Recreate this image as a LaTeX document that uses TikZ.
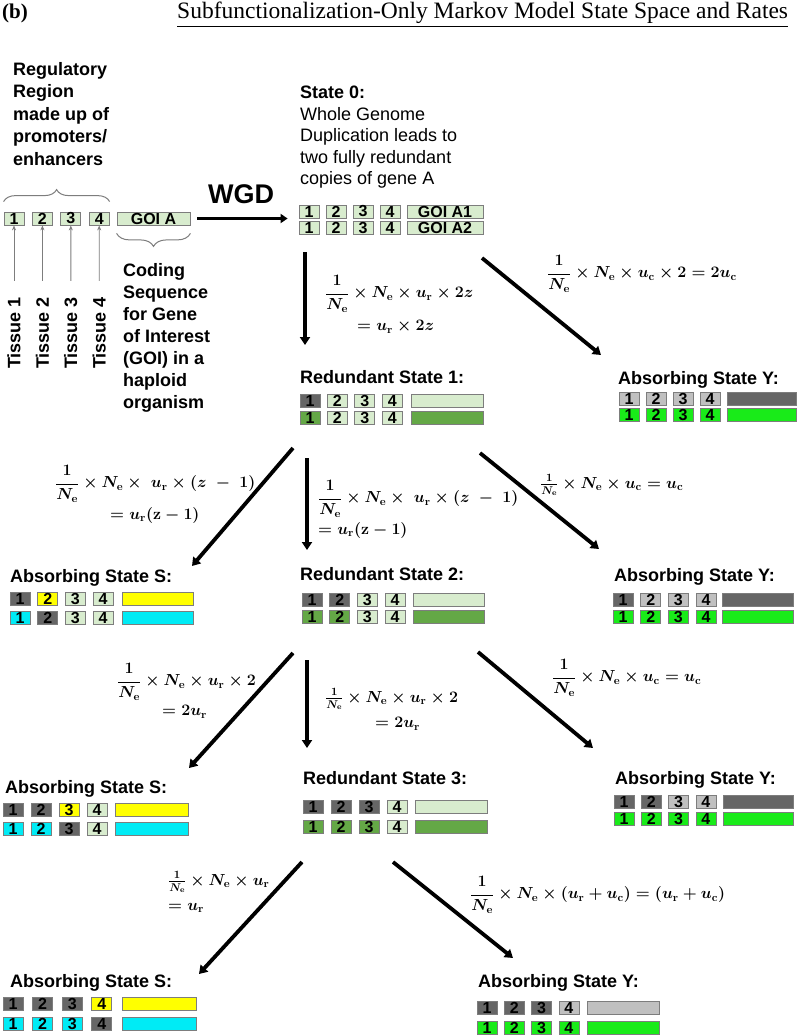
\RequirePackage{fix-cm}
\documentclass[tikz,border=0pt]{standalone}
\usepackage[no-math]{fontspec}
\usepackage{amsmath}
\setmainfont{Liberation Sans}
\newfontfamily\serifont{Liberation Serif}
\usetikzlibrary{arrows.meta,decorations.pathreplacing}
\definecolor{lgreen}{RGB}{216,236,206}
\definecolor{dgray}{RGB}{102,102,102}
\definecolor{mgreen}{RGB}{100,168,70}
\definecolor{bgreen}{RGB}{25,235,25}
\definecolor{lgray}{RGB}{192,192,192}
\definecolor{ycol}{RGB}{255,255,0}
\definecolor{ccol}{RGB}{0,235,245}
\definecolor{bordergray}{RGB}{125,125,125}
\newcommand\NNe{N_{\mathbf{e}}}
\newcommand\uR{u_{\mathbf{r}}}
\newcommand\uC{u_{\mathbf{c}}}
\newcommand\fm[1]{{\boldmath$\displaystyle #1$}}
\newcommand\fmt[1]{{\boldmath$#1$}}
\tikzset{
  gbox/.style={draw=bordergray, line width=0.8pt, inner sep=0pt, minimum height=13pt,
    font=\bfseries\fontsize{16}{16}\selectfont},
  lbl/.style={font=\bfseries\fontsize{18}{22.5}\selectfont, inner sep=0pt},
  fml/.style={font=\fontsize{16}{19}\selectfont, inner sep=0pt, anchor=west},
  bigarrow/.style={line width=3.8pt, -{Triangle[length=8pt,width=10pt]}},
  tissuearrow/.style={draw=bordergray, line width=0.9pt, -{Stealth[length=5pt,width=4pt]}},
  gbrace/.style={draw=bordergray, line width=1pt, decorate}
}
% #1 name, #2 x0, #3 y centre, #4 pitch, #5 code left, #6 code right, #7 colours, #8 code text
\newcommand\generow[8]{%
  \foreach \col [count=\i] in {#7} {%
    \ifnum\i<5
      \node[gbox, fill=\col, minimum width=20pt] (#1-\i) at ({#2+(\i-1)*#4+10}, #3) {\i};
    \else
      \pgfmathsetmacro\cw{#6-#5}
      \node[gbox, fill=\col, minimum width=\cw pt] (#1-c) at ({(#5+#6)/2}, #3) {#8};
    \fi
  }%
}
\begin{document}
\begin{tikzpicture}[x=1pt,y=-1pt]
\useasboundingbox (0,0) rectangle (797,1036);
\fill[white] (0,0) rectangle (797,1036);

% header
\node[font=\serifont\bfseries\fontsize{21}{21}\selectfont, anchor=base west, inner sep=0pt] (panel) at (2,18) {(b)};
\node[font=\serifont\fontsize{23.5}{24}\selectfont, anchor=base west, inner sep=0pt] (title) at (177,18) {\underline{Subfunctionalization-Only Markov Model State Space and Rates}};

% left explanation
\node[lbl, align=left, anchor=north west] (reg) at (13,62) {Regulatory\\Region\\made up of\\promoters/\\enhancers};
\generow{g0}{4}{218.5}{28.4}{117}{190}{lgreen,lgreen,lgreen,lgreen,lgreen}{GOI A}
\draw[gbrace, decoration={brace, amplitude=12pt}] ([yshift=10pt]g0-1.north west) -- ([yshift=10pt]g0-4.north east);
\draw[gbrace, decoration={brace, amplitude=13pt}] ([yshift=-8pt]g0-c.south east) -- ([yshift=-8pt]g0-c.south west);
\foreach \i/\x in {1/14,2/42.4,3/70.8,4/99.2} {
  \node[lbl, rotate=90] (t\i) at (\x,333) {Tissue \i};
  \draw[tissuearrow, shorten <=16pt] (t\i.east) -- (g0-\i.south);
}
\node[lbl, align=left, anchor=north west, font=\bfseries\fontsize{18}{22}\selectfont] (cod) at (123,263) {Coding\\Sequence\\for Gene\\of Interest\\(GOI) in a\\haploid\\organism};

% WGD
\node[font=\bfseries\fontsize{27}{27}\selectfont, inner sep=0pt, anchor=base west] (wgd) at (208,203) {WGD};

% State 0
\node[font=\fontsize{18}{21.5}\selectfont, align=left, anchor=north west, inner sep=0pt] (s0txt) at (300,86) {\textbf{State 0:}\\Whole Genome\\Duplication leads to\\two fully redundant\\copies of gene A};
\generow{s0a}{299}{211.5}{27}{407}{483}{lgreen,lgreen,lgreen,lgreen,lgreen}{GOI A1}
\generow{s0b}{299}{228}{27}{407}{483}{lgreen,lgreen,lgreen,lgreen,lgreen}{GOI A2}
\draw[line width=3pt, -{Triangle[length=7pt,width=9pt]}, shorten <=7pt, shorten >=11pt] (g0-c.east) -- (g0-c.east -| s0a-1.west);

% Redundant state 1
\node[lbl, anchor=base west] (rs1) at (300,383) {Redundant State 1:};
\generow{r1a}{300}{400.5}{27.4}{411}{483}{dgray,lgreen,lgreen,lgreen,lgreen}{}
\generow{r1b}{300}{418}{27.4}{411}{483}{mgreen,lgreen,lgreen,lgreen,mgreen}{}

% Absorbing Y 1
\node[lbl, anchor=base west] (y1) at (618,384) {Absorbing State Y:};
\generow{y1a}{619}{398.5}{27}{727}{796}{lgray,lgray,lgray,lgray,dgray}{}
\generow{y1b}{619}{414.5}{27}{727}{796}{bgreen,bgreen,bgreen,bgreen,bgreen}{}

% Absorbing S 2
\node[lbl, anchor=base west] (s2) at (10,582) {Absorbing State S:};
\generow{s2a}{10}{598.5}{27.7}{122}{193}{dgray,ycol,lgreen,lgreen,ycol}{}
\generow{s2b}{10}{618}{27.7}{122}{193}{ccol,dgray,lgreen,lgreen,ccol}{}

% Redundant state 2
\node[lbl, anchor=base west] (rs2) at (300,580) {Redundant State 2:};
\generow{r2a}{302}{599.5}{27.7}{413}{484}{dgray,dgray,lgreen,lgreen,lgreen}{}
\generow{r2b}{302}{617}{27.7}{413}{484}{mgreen,mgreen,lgreen,lgreen,mgreen}{}

% Absorbing Y 2
\node[lbl, anchor=base west] (y2) at (614,581) {Absorbing State Y:};
\generow{y2a}{613}{599.5}{27.7}{722}{793}{dgray,lgray,lgray,lgray,dgray}{}
\generow{y2b}{613}{617}{27.7}{722}{793}{bgreen,bgreen,bgreen,bgreen,bgreen}{}

% Absorbing S 3
\node[lbl, anchor=base west] (s3) at (5,793) {Absorbing State S:};
\generow{s3a}{3}{810}{28}{115}{188}{dgray,dgray,ycol,lgreen,ycol}{}
\generow{s3b}{3}{829}{28}{115}{188}{ccol,ccol,dgray,lgreen,ccol}{}

% Redundant state 3
\node[lbl, anchor=base west] (rs3) at (303,784) {Redundant State 3:};
\generow{r3a}{303}{807}{28}{415}{487}{dgray,dgray,dgray,lgreen,lgreen}{}
\generow{r3b}{303}{827}{28}{415}{487}{mgreen,mgreen,mgreen,lgreen,mgreen}{}

% Absorbing Y 3
\node[lbl, anchor=base west] (y3) at (615,784) {Absorbing State Y:};
\generow{y3a}{614}{801.5}{27.3}{723}{793}{dgray,dgray,lgray,lgray,dgray}{}
\generow{y3b}{614}{818.5}{27.3}{723}{793}{bgreen,bgreen,bgreen,bgreen,bgreen}{}

% Absorbing S 4
\node[lbl, anchor=base west] (s4) at (10,987) {Absorbing State S:};
\generow{s4a}{3}{1003.5}{29.6}{122}{196}{dgray,dgray,dgray,ycol,ycol}{}
\generow{s4b}{3}{1023.5}{29.6}{122}{196}{ccol,ccol,ccol,dgray,ccol}{}

% Absorbing Y 4
\node[lbl, anchor=base west] (y4) at (478,987) {Absorbing State Y:};
\generow{y4a}{477}{1008}{27.3}{587}{659}{dgray,dgray,dgray,lgray,lgray}{}
\generow{y4b}{477}{1027.5}{27.3}{587}{659}{bgreen,bgreen,bgreen,bgreen,bgreen}{}

% transition arrows
\coordinate (a1s) at (305,252);  \coordinate (a1e) at (305,345);
\coordinate (a2s) at (482,258);  \coordinate (a2e) at (601,355);
\coordinate (a3s) at (293,448);  \coordinate (a3e) at (192,566);
\coordinate (a4s) at (307,458);  \coordinate (a4e) at (307,550);
\coordinate (a5s) at (480,453);  \coordinate (a5e) at (599,549);
\coordinate (a6s) at (293,653);  \coordinate (a6e) at (189,768);
\coordinate (a7s) at (307,660);  \coordinate (a7e) at (307,748);
\coordinate (a8s) at (478,652);  \coordinate (a8e) at (593,748);
\coordinate (a9s) at (302,862);  \coordinate (a9e) at (199,974);
\coordinate (a10s) at (393,862); \coordinate (a10e) at (513,958);
\foreach \k in {1,...,10} {\draw[bigarrow] (a\k s) -- (a\k e);}

% rates
\node[fml] (f1) at (325,294) {\fm{\frac{1}{\NNe}\times\NNe\times\uR\times 2z}};
\node[fml] (f1b) at (357,327) {\fmt{=\uR\times 2z}};
\node[fml] (f2) at (547,274) {\fm{\frac{1}{\NNe}\times\NNe\times\uC\times 2 = 2\uC}};
\node[fml] (f3) at (55,484) {\fm{\frac{1}{\NNe}\times\NNe\times\;\uR\times(z\;-\;1)}};
\node[fml] (f3b) at (110,515) {\fmt{=\uR(\mathbf{z}-1)}};
\node[fml] (f4) at (318,499) {\fm{\frac{1}{\NNe}\times\NNe\times\;\uR\times(z\;-\;1)}};
\node[fml] (f4b) at (318,530) {\fmt{=\uR(\mathbf{z}-1)}};
\node[fml] (f5) at (540,485) {\fmt{\tfrac{1}{\NNe}\times\NNe\times\uC=\uC}};
\node[fml] (f6) at (117,682) {\fm{\frac{1}{\NNe}\times\NNe\times\uR\times 2}};
\node[fml] (f6b) at (162,712) {\fmt{=2\uR}};
\node[fml] (f7) at (325,699) {\fmt{\tfrac{1}{\NNe}\times\NNe\times\uR\times 2}};
\node[fml] (f7b) at (375,724) {\fmt{=2\uR}};
\node[fml] (f8) at (552,678) {\fm{\frac{1}{\NNe}\times\NNe\times\uC=\uC}};
\node[fml] (f9) at (168,882) {\fmt{\tfrac{1}{\NNe}\times\NNe\times\uR}};
\node[fml] (f9b) at (168,908) {\fmt{=\uR}};
\node[fml] (f10) at (470,895) {\fm{\frac{1}{\NNe}\times\NNe\times(\uR+\uC)=(\uR+\uC)}};
\end{tikzpicture}
\end{document}
